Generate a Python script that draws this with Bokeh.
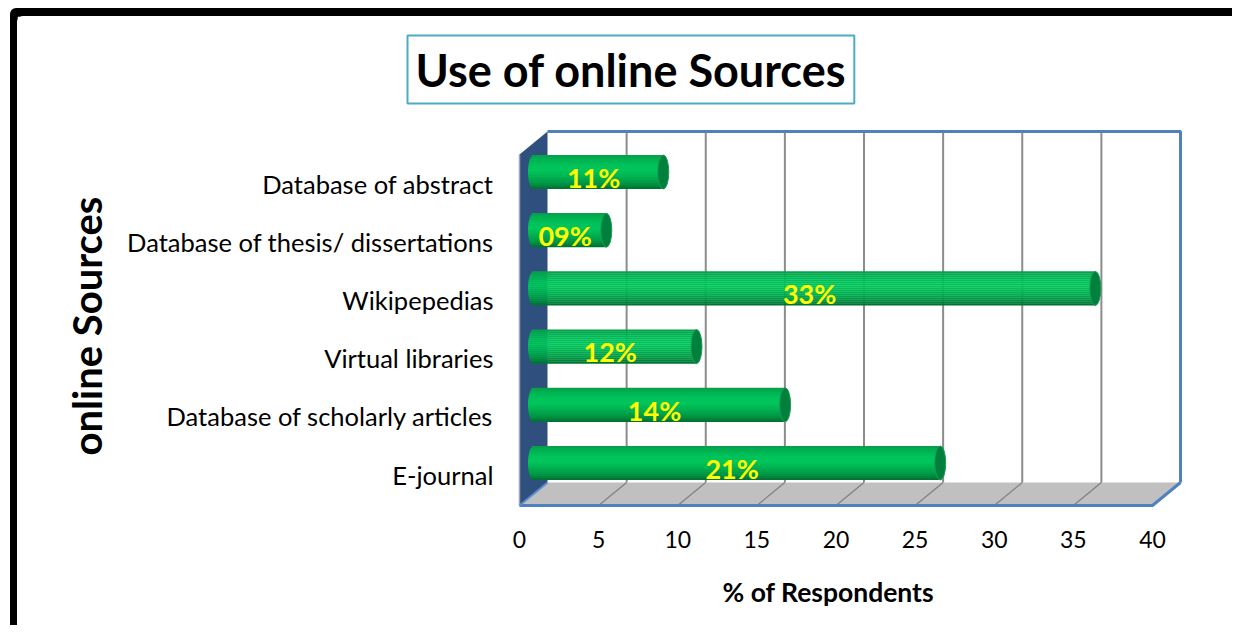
import math
from bokeh.plotting import figure
from bokeh.models import ColumnDataSource, Range1d, FixedTicker, Title
from bokeh.core.properties import value
from bokeh.embed import file_html
from bokeh.resources import INLINE

# ---------------- data ----------------
categories = ["E-journal", "Database of scholarly articles", "Virtual libraries",
              "Wikipepedias", "Database of thesis/ dissertations", "Database of abstract"]
values = [25.7, 15.9, 10.3, 35.5, 4.6, 8.2]
pct_labels = ["21%", "14%", "12%", "33%", "09%", "11%"]
x_ticks = [0, 5, 10, 15, 20, 25, 30, 35, 40]
title_text = "Use of online Sources"
x_title = "% of Respondents"
y_title = "online Sources"

# ---------------- geometry / style ----------------
OX, OY = 17, 16                         # where the canvas starts on the page
W, H = 1239 - OX, 633 - OY
PL, PT, PR, PB = 505, 120, 1195, 515    # frame edges (page pixels)
PX_X = 15.825      # pixels per x unit
PX_Y = 58.2        # pixels per category
X0, Y0 = 519, 474  # page position of x=0 / first category (front plane)
DX = 28 / PX_X     # depth offset (x)
DY = 23 / PX_Y     # depth offset (y)
FLOOR = -0.533
TOP = 5.498
XMAX = 40
BX, BY = DX / 2, DY / 2
BAR_H = 34 / PX_Y
CAP_A = 5.5 / PX_X
FONT = "Lato"

p = figure(width=W, height=H, output_backend="svg", toolbar_location=None,
           title=None, x_range=Range1d((PL - X0) / PX_X, (PR - X0) / PX_X),
           y_range=Range1d((Y0 - PB) / PX_Y, (Y0 - PT) / PX_Y),
           min_border_left=PL - OX, min_border_right=W - (PR - OX),
           min_border_top=PT - OY, min_border_bottom=H - (PB - OY),
           styles={"margin-left": f"{OX}px", "margin-top": f"{OY}px",
                   "box-shadow": "-7px -8px 0px 0px black",
                   "border-top-left-radius": "6px"})
p.background_fill_color = "white"
p.border_fill_color = "white"
p.outline_line_color = None
p.xgrid.grid_line_color = None
p.ygrid.grid_line_color = None

# axes
p.xaxis.ticker = FixedTicker(ticks=x_ticks)
p.xaxis.axis_line_color = None
p.xaxis.major_tick_line_color = None
p.xaxis.minor_tick_line_color = None
p.xaxis.major_tick_out = 0
p.xaxis.major_label_standoff = 15
p.xaxis.major_label_text_font = FONT
p.xaxis.major_label_text_font_size = "23px"
p.xaxis.major_label_text_color = "black"

p.yaxis.ticker = FixedTicker(ticks=list(range(len(categories))))
p.yaxis.major_label_overrides = {i: c for i, c in enumerate(categories)}
p.yaxis.axis_line_color = None
p.yaxis.major_tick_line_color = None
p.yaxis.minor_tick_line_color = None
p.yaxis.major_tick_out = 0
p.yaxis.major_label_standoff = 12
p.yaxis.major_label_text_font = FONT
p.yaxis.major_label_text_font_size = "25.5px"
p.yaxis.major_label_text_color = "black"

# back wall
p.quad(left=[DX], right=[XMAX + DX], bottom=[FLOOR + DY], top=[TOP + DY],
       fill_color="white", line_color=None)
gx = [k for k in x_ticks if 0 < k < XMAX]
p.segment(x0=[k + DX for k in gx], y0=[FLOOR + DY] * len(gx),
          x1=[k + DX for k in gx], y1=[TOP + DY] * len(gx),
          line_color="#8C8C8C", line_width=2)
p.line(x=[DX, XMAX + DX, XMAX + DX], y=[TOP + DY, TOP + DY, FLOOR + DY],
       line_color="#4F81BD", line_width=3)

# floor
p.patch(x=[0, XMAX, XMAX + DX, DX], y=[FLOOR, FLOOR, FLOOR + DY, FLOOR + DY],
        fill_color="#C0C0C0", line_color=None)
p.segment(x0=gx, y0=[FLOOR] * len(gx), x1=[k + DX for k in gx],
          y1=[FLOOR + DY] * len(gx), line_color="#7F7F7F", line_width=1.2)
p.line(x=[0, XMAX, XMAX + DX], y=[FLOOR, FLOOR, FLOOR + DY],
       line_color="#4F81BD", line_width=3)

# left wall
p.patch(x=[0, DX, DX, 0], y=[FLOOR, FLOOR + DY, TOP + DY, TOP],
        fill_color="#2F4F7E", line_color=None)
p.line(x=[0, 0], y=[FLOOR, TOP], line_color="#9AA6B8", line_width=1.5)
p.line(x=[0, DX], y=[FLOOR, FLOOR + DY], line_color="#5B8BD0", line_width=2)

# bars (cylinders built from thin horizontal strips)
stops = [(0.0, (0x0B, 0x9A, 0x48)), (0.1, (0x00, 0xAE, 0x50)), (0.3, (0x00, 0xC2, 0x5A)),
         (0.45, (0x00, 0xC6, 0x5C)), (0.6, (0x00, 0xB6, 0x53)), (0.75, (0x00, 0xA3, 0x4A)),
         (0.9, (0x00, 0x8A, 0x3E)), (1.0, (0x00, 0x6B, 0x30))]

def shade(t):
    for (t0, c0), (t1, c1) in zip(stops[:-1], stops[1:]):
        if t0 <= t <= t1:
            f = (t - t0) / (t1 - t0)
            c = [round(a + (b - a) * f) for a, b in zip(c0, c1)]
            return "#%02x%02x%02x" % tuple(c)
    return "#006B30"

NS = 17
s_y, s_l, s_r, s_h, s_c = [], [], [], [], []
for i, v in enumerate(values):
    yc = i + BY
    for s in range(NS):
        t = (s + 0.5) / NS
        rel = 1 - 2 * t
        s_y.append(yc + BAR_H / 2 - (s + 0.5) * BAR_H / NS)
        s_l.append(BX - CAP_A * math.sqrt(max(0.0, 1 - rel * rel)))
        s_r.append(v + BX)
        s_h.append(BAR_H / NS * 1.1)
        s_c.append(shade(t))
strips = ColumnDataSource(dict(y=s_y, left=s_l, right=s_r, height=s_h, color=s_c))
p.hbar(y="y", left="left", right="right", height="height", fill_color="color",
       line_color=None, source=strips)

caps = ColumnDataSource(dict(x=[v + BX for v in values],
                             y=[i + BY for i in range(len(values))]))
p.ellipse(x="x", y="y", width=2 * CAP_A, height=BAR_H, source=caps,
          fill_color="#00803D", line_color="#1E9A55", line_width=1)

lab = ColumnDataSource(dict(x=[v / 2 + BX - 0.3 for v in values],
                            y=[i + BY - 0.09 for i in range(len(values))],
                            t=pct_labels))
p.text(x="x", y="y", text="t", source=lab, text_align="center",
       text_baseline="middle", text_color="#FFFF00", text_font=value(FONT),
       text_font_size="27px", text_font_style="bold")

# titles (in side panels, so they are not clipped by the frame)
p.add_layout(Title(text=title_text, align="left", offset=407 - PL,
                   standoff=34, text_font=FONT, text_font_size="45px",
                   text_font_style="bold", text_color="black",
                   background_fill_color="white", border_line_color="#4BACC6",
                   border_line_width=2,
                   padding=dict(left=8, right=8, top=7, bottom=7)), "above")
p.add_layout(Title(text=y_title, align="left", offset=PB - 455,
                   standoff=27, text_font=FONT, text_font_size="40px",
                   text_font_style="bold", text_color="black"), "left")
p.add_layout(Title(text=x_title, align="left", offset=722 - PL,
                   standoff=46, text_font=FONT, text_font_size="26.5px",
                   text_font_style="bold", text_color="black"), "below")

open("out.html", "w").write(file_html(p, INLINE))
